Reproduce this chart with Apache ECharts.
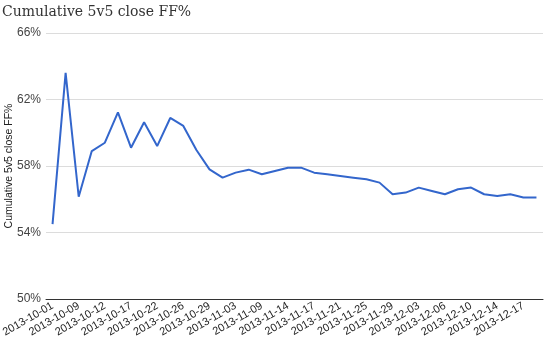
<!DOCTYPE html>
<html>
<head>
<meta charset="utf-8">
<script src="https://cdn.jsdelivr.net/npm/echarts@6/dist/echarts.min.js"></script>
<style>
  html, body { margin: 0; padding: 0; background: #fff; }
  #chart { width: 550px; height: 347px; }
</style>
</head>
<body>
<div id="chart"></div>
<script>
// Game dates (every other one is labelled on the axis)
const gameDates = [
  '2013-10-01', '2013-10-05', '2013-10-09', '2013-10-10', '2013-10-12', '2013-10-15',
  '2013-10-17', '2013-10-19', '2013-10-22', '2013-10-24', '2013-10-26', '2013-10-27',
  '2013-10-29', '2013-11-01', '2013-11-03', '2013-11-07', '2013-11-09', '2013-11-12',
  '2013-11-14', '2013-11-16', '2013-11-17', '2013-11-19', '2013-11-21', '2013-11-23',
  '2013-11-25', '2013-11-27', '2013-11-29', '2013-12-01', '2013-12-03', '2013-12-05',
  '2013-12-06', '2013-12-08', '2013-12-10', '2013-12-12', '2013-12-14', '2013-12-15',
  '2013-12-17', '2013-12-19'
];

// Cumulative 5v5 close Fenwick-for percentage after each game
const cumulativeFF = [
  54.5, 63.6, 56.15, 58.9, 59.4, 61.23, 59.1, 60.63, 59.2, 60.89,
  60.41, 58.96, 57.8, 57.3, 57.6, 57.78, 57.5, 57.7, 57.9, 57.9,
  57.6, 57.5, 57.4, 57.3, 57.2, 57.0, 56.3, 56.4, 56.7, 56.5,
  56.3, 56.6, 56.7, 56.3, 56.2, 56.3, 56.1, 56.1
];

// Value axis ticks (percent)
const yTicks = [50, 54, 58, 62, 66];

const chart = echarts.init(document.getElementById('chart'), null, { renderer: 'canvas' });

chart.setOption({
  animation: false,
  backgroundColor: '#ffffff',
  title: {
    text: 'Cumulative 5v5 close FF%',
    left: 0,
    top: 3,
    padding: [2, 2],
    textStyle: {
      fontFamily: '"DejaVu Serif", serif',
      fontWeight: 'normal',
      fontSize: 14,
      color: '#333333'
    }
  },
  grid: {
    left: 46, right: 7, top: 33, bottom: 48,
    containLabel: false,
    outerBoundsMode: 'none'
  },
  xAxis: {
    type: 'category',
    data: gameDates,
    boundaryGap: true,
    axisLine: { show: true, lineStyle: { color: '#333333', width: 1 } },
    axisTick: { show: false },
    splitLine: { show: false },
    axisLabel: {
      interval: 1,
      rotate: 30,
      margin: 6,
      fontFamily: 'Liberation Sans, Arial, sans-serif',
      fontSize: 11,
      color: '#222222'
    }
  },
  yAxis: {
    type: 'value',
    min: yTicks[0],
    max: yTicks[yTicks.length - 1],
    interval: yTicks[1] - yTicks[0],
    name: 'Cumulative 5v5 close FF%',
    nameLocation: 'middle',
    nameGap: 31,
    nameMoveOverlap: false,
    nameRotate: 90,
    nameTextStyle: {
      fontFamily: 'Liberation Sans, Arial, sans-serif',
      fontSize: 10.5,
      color: '#222222'
    },
    axisLine: { show: false },
    axisTick: { show: false },
    splitLine: { show: true, lineStyle: { color: '#dcdcdc', width: 1 } },
    axisLabel: {
      formatter: v => v + '%',
      margin: 5,
      fontFamily: 'Liberation Sans, Arial, sans-serif',
      fontSize: 12,
      color: '#444444'
    }
  },
  series: [{
    type: 'line',
    data: cumulativeFF,
    symbol: 'none',
    lineStyle: { color: '#3366cc', width: 2 },
    itemStyle: { color: '#3366cc' }
  }]
});
</script>
</body>
</html>
